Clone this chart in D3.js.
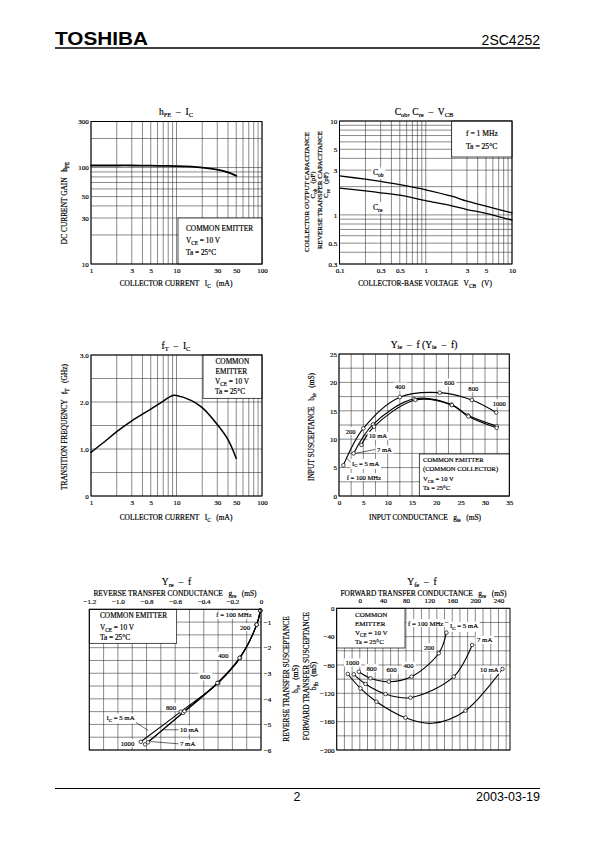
<!DOCTYPE html>
<html><head><meta charset="utf-8">
<script src="https://cdn.jsdelivr.net/npm/d3@7"></script>
<style>body{margin:0;background:#fff}svg{display:block}</style>
</head><body><script>
// ---------------- DATA ----------------
// hFE - IC
const hfeIc  = [1,2,3,5,7,10,15,20,30,40,50];
const hfeVal = [105,105,105,104.5,104,103.5,102,100,95,89,82];
// Cob, Cre - VCB
const capVcb = [0.1,0.2,0.3,0.5,1,2,3,5,10];
const cobVal = [2.6,2.4,2.28,2.1,1.85,1.58,1.4,1.24,1.05];
const creVal = [1.93,1.8,1.72,1.62,1.42,1.25,1.14,1.04,0.88];
// fT - IC
const ftIc  = [1,1.5,2,3,5,7,9,10,15,20,30,40,50];
const ftVal = [0.93,1.18,1.37,1.6,1.85,2.02,2.14,2.14,2.03,1.88,1.52,1.2,0.8];
// Yie (f = 100,200,400,600,800,1000 MHz)
const yieFreq = [100,200,400,600,800,1000];
const yieG5  = [0.9,5.0,12.5,20.7,27.3,32.3];
const yieB5  = [5.4,11.9,17.4,18.2,16.9,14.7];
const yieG7  = [3.0,7.0,15.4,23.1,26.5,32.4];
const yieB7  = [7.5,12.6,17.1,16.1,14.2,12.3];
const yieG10 = [4.6,7.2,15.7,23.2,26.6,32.4];
const yieB10 = [9.0,12.2,16.9,16.0,14.0,12.0];
// Yre (f = 100..1000 MHz)
const yreFreq = [100,200,400,600,800,1000];
const yreG5  = [-0.005,-0.03,-0.147,-0.30,-0.56,-0.84];
const yreB5  = [-0.55,-1.1,-2.4,-3.38,-4.5,-5.68];
const yreG7  = [-0.005,-0.03,-0.147,-0.30,-0.545,-0.81];
const yreB7  = [-0.55,-1.1,-2.4,-3.38,-4.55,-5.78];
const yreG10 = [-0.005,-0.03,-0.15,-0.305,-0.535,-0.79];
const yreB10 = [-0.55,-1.1,-2.4,-3.38,-4.48,-5.7];
// Yfe (f = 1000..100 MHz, null = curve point without marker)
const yfeF5  = [1000,800,600,400,200,100];
const yfeG5  = [-1.7,18.5,50.2,89.4,136.7,150];
const yfeB5  = [-89.5,-98.8,-103.6,-96.5,-63.5,-34.4];
const yfeF7  = [1000,800,600,400,200,100];
const yfeG7  = [-10.4,9.9,44.5,87.7,162.6,194.5];
const yfeB7  = [-93.2,-106.8,-121,-126.2,-96.5,-51.8];
const yfeF10 = [1000,800,600,400,null,200,100];
const yfeG10 = [-20.8,1.2,28.9,79,125,182.9,246.9];
const yfeB10 = [-92.7,-113,-131.8,-154.4,-162.3,-144.5,-85.7];
// tick labels
const icTicks  = [1,3,5,10,30,50,100];
const hfeTicks = [10,30,50,100,300];
const vcbTicks = [0.1,0.3,0.5,1,3,5,10];
const capTicks = [0.3,0.5,1,3,5,10];
const ftTicks  = [0,1,2,3];
const gieTicks = [0,5,10,15,20,25,30,35];
const bieTicks = [0,5,10,15,20,25];
const greTicks = [-1.2,-1.0,-0.8,-0.6,-0.4,-0.2,0];
const breTicks = [-1,-2,-3,-4,-5,-6];
const gfeTicks = [0,40,80,120,160,200,240];
const bfbTicks = [0,-40,-80,-120,-160,-200];

// ---------------- HELPERS ----------------
const W=595,H=842;
const SERIF="'Liberation Serif','DejaVu Serif',serif";
const SANS="'Liberation Sans',Arial,sans-serif";
const TFS=7.4;   // axis titles
const KFS=7;     // tick labels
const svg=d3.select("body").append("svg").attr("width",W).attr("height",H);
svg.append("rect").attr("width",W).attr("height",H).attr("fill","#fff");

function rich(t,str,fs){
  const parts=str.split(/(_\{[^}]*\})/).filter(s=>s.length);
  const drop=fs>9?0.2:0.3, ss=fs>9?0.68:0.72;
  let sh=false;
  for(const p of parts){
    const sub=p.startsWith("_{");
    const ts=t.append("tspan").text(sub?p.slice(2,-1):p);
    if(sub){ts.attr("font-size",fs*ss).attr("dy",fs*drop);sh=true;}
    else if(sh){ts.attr("dy",-fs*drop);sh=false;}
  }
  return t;
}
function text(g,x,y,str,o={}){
  const fs=o.fs||7;
  const font=o.font||SERIF;
  const t=g.append("text").attr("x",x).attr("y",y)
    .attr("font-family",font).attr("font-size",fs)
    .attr("text-anchor",o.anchor||"start").attr("fill","#000")
    .style("white-space","pre");
  if(font===SERIF) t.attr("stroke","#000").attr("stroke-width",0.18);
  if(o.weight) t.attr("font-weight",o.weight);
  if(o.rotate) t.attr("transform",`rotate(-90,${x},${y})`);
  rich(t,str,fs);
  if(o.len) t.attr("textLength",o.len).attr("lengthAdjust","spacingAndGlyphs");
  if(o.bg){
    const b=t.node().getBBox();
    g.insert("rect",()=>t.node()).attr("x",b.x-1.5).attr("y",b.y-0.5)
      .attr("width",b.width+3).attr("height",b.height+1).attr("fill","#fff");
  }
  return t;
}
function logGrid(lo,hi){
  const out=[];
  for(let e=Math.floor(Math.log10(lo)-1e-9);e<=Math.ceil(Math.log10(hi));e++){
    const d=Math.pow(10,e);
    for(let k=1;k<=9;k++){const v=+(k*d).toPrecision(6); if(v>=lo*0.999&&v<=hi*1.001) out.push(v);}
  }
  return out;
}
function frame(x,y,gx,gy){
  const g=svg.append("g");
  const [xa,xb]=x.range(), ya=Math.min(...y.range()), yb=Math.max(...y.range());
  g.append("g").selectAll("line").data(gx).join("line")
    .attr("x1",d=>x(d)).attr("x2",d=>x(d)).attr("y1",ya).attr("y2",yb)
    .attr("stroke","#2a2a2a").attr("stroke-width",0.55);
  g.append("g").selectAll("line").data(gy).join("line")
    .attr("x1",xa).attr("x2",xb).attr("y1",d=>y(d)).attr("y2",d=>y(d))
    .attr("stroke","#2a2a2a").attr("stroke-width",0.55);
  return {g,xa,xb,ya,yb};
}
function border(f){
  f.g.append("rect").attr("x",f.xa).attr("y",f.ya).attr("width",f.xb-f.xa).attr("height",f.yb-f.ya)
    .attr("fill","none").attr("stroke","#000").attr("stroke-width",1);
}
function box(f,x1,y1,x2,y2){
  f.g.append("rect").attr("x",x1).attr("y",y1).attr("width",x2-x1).attr("height",y2-y1)
    .attr("fill","#fff").attr("stroke","#000").attr("stroke-width",0.7);
}
function styleAxis(a){
  a.select(".domain").remove();
  a.attr("font-size",null).attr("font-family",null);
  a.selectAll("text").attr("font-family",SERIF).attr("font-size",KFS).attr("fill","#000")
    .attr("stroke","#000").attr("stroke-width",0.18);
}
function axis(f,kind,scale,ticks,fmt,pos,pad){
  const gen={bottom:d3.axisBottom,left:d3.axisLeft,top:d3.axisTop,right:d3.axisRight}[kind](scale)
    .tickValues(ticks).tickFormat(fmt).tickSize(0).tickPadding(pad);
  const tr=(kind==="bottom"||kind==="top")?`translate(0,${pos})`:`translate(${pos},0)`;
  f.g.append("g").attr("transform",tr).call(gen).call(styleAxis);
}
function curve(f,x,y,xs,ys,w,type){
  const pts=xs.map((v,i)=>[v,ys[i]]);
  const line=d3.line().x(d=>x(d[0])).y(d=>y(d[1])).curve(type||d3.curveCatmullRom.alpha(0.5));
  f.g.append("path").attr("d",line(pts)).attr("fill","none").attr("stroke","#000")
    .attr("stroke-width",w).attr("stroke-linejoin","round").attr("stroke-linecap","round");
}
function markers(f,x,y,xs,ys,fs){
  const pts=xs.map((v,i)=>[v,ys[i],fs[i]]).filter(d=>d[2]!=null);
  f.g.append("g").selectAll("circle").data(pts).join("circle")
    .attr("cx",d=>x(d[0])).attr("cy",d=>y(d[1])).attr("r",1.8)
    .attr("fill","#fff").attr("stroke","#000").attr("stroke-width",0.7);
}
function leader(f,x,y,a,b){
  f.g.append("line").attr("x1",x(a[0])).attr("y1",y(a[1])).attr("x2",x(b[0])).attr("y2",y(b[1]))
    .attr("stroke","#000").attr("stroke-width",0.6);
}
const fmtG=d=>String(d);

// ---------------- HEADER / FOOTER ----------------
text(svg,55,45,"TOSHIBA",{font:SANS,fs:18.5,weight:900,len:93});
text(svg,540,45,"2SC4252",{font:SANS,fs:14,anchor:"end"});
svg.append("line").attr("x1",55).attr("x2",540).attr("y1",48).attr("y2",48).attr("stroke","#000").attr("stroke-width",1.4);
svg.append("line").attr("x1",55).attr("x2",540).attr("y1",788.5).attr("y2",788.5).attr("stroke","#000").attr("stroke-width",1.2);
text(svg,297,801,"2",{font:SANS,fs:12.5,anchor:"middle"});
text(svg,540,801,"2003-03-19",{font:SANS,fs:12.5,anchor:"end"});

// ---------------- CHART 1: hFE - IC ----------------
{
  const x=d3.scaleLog().domain([1,100]).range([91,262]);
  const y=d3.scaleLog().domain([10,300]).range([264,121.5]);
  const f=frame(x,y,logGrid(1,100),logGrid(10,300));
  box(f,178,218,262,264);
  curve(f,x,y,hfeIc,hfeVal,1.8);
  text(f.g,186,230.5,"COMMON EMITTER",{fs:7.3});
  text(f.g,186,242.5,"V_{CE} = 10 V",{fs:7.3});
  text(f.g,186,255,"Ta = 25°C",{fs:7.3});
  border(f);
  axis(f,"bottom",x,icTicks,fmtG,264,3.6);
  axis(f,"left",y,hfeTicks,fmtG,91,2.3);
  text(svg,176,115,"h_{FE}  –  I_{C}",{fs:9.5,anchor:"middle"});
  text(svg,176,285.5,"COLLECTOR CURRENT   I_{C}   (mA)",{fs:TFS,anchor:"middle"});
  text(svg,67,203,"DC CURRENT GAIN   h_{FE}",{fs:TFS,anchor:"middle",rotate:true});
}

// ---------------- CHART 2: Cob, Cre - VCB ----------------
{
  const x=d3.scaleLog().domain([0.1,10]).range([339.5,512]);
  const y=d3.scaleLog().domain([0.3,10]).range([264,121]);
  const f=frame(x,y,logGrid(0.1,10),logGrid(0.3,10));
  box(f,451.7,121,512,157);
  curve(f,x,y,capVcb,cobVal,1.3);
  curve(f,x,y,capVcb,creVal,1.3);
  text(f.g,466,135.5,"f = 1 MHz",{fs:7.6});
  text(f.g,466,148.5,"Ta = 25°C",{fs:7.6});
  text(f.g,373,175,"C_{ob}",{fs:7.6,bg:true});
  text(f.g,373,209.5,"C_{re}",{fs:7.6,bg:true});
  border(f);
  axis(f,"bottom",x,vcbTicks,fmtG,264,3.6);
  axis(f,"left",y,capTicks,fmtG,339.5,2.3);
  text(svg,424,115,"C_{ob}, C_{re}  –  V_{CB}",{fs:9.5,anchor:"middle"});
  text(svg,425,285.5,"COLLECTOR-BASE VOLTAGE   V_{CB}   (V)",{fs:TFS,anchor:"middle"});
  text(svg,308.5,192,"COLLECTOR OUTPUT CAPACITANCE",{fs:7,anchor:"middle",rotate:true});
  text(svg,315,185,"C_{ob}   (pF)",{fs:7,anchor:"middle",rotate:true});
  text(svg,321.5,190,"REVERSE TRANSFER CAPACITANCE",{fs:7,anchor:"middle",rotate:true});
  text(svg,328,185,"C_{re}   (pF)",{fs:7,anchor:"middle",rotate:true});
}

// ---------------- CHART 3: fT - IC ----------------
{
  const x=d3.scaleLog().domain([1,100]).range([91,262]);
  const y=d3.scaleLinear().domain([0,3]).range([496,355]);
  const f=frame(x,y,logGrid(1,100),d3.range(0,3.01,0.5));
  box(f,203,355,262,398.3);
  curve(f,x,y,ftIc,ftVal,1.5);
  text(f.g,215.5,363.8,"COMMON",{fs:7.3});
  text(f.g,215.5,373.6,"EMITTER",{fs:7.3});
  text(f.g,215,384,"V_{CE} = 10 V",{fs:7.3});
  text(f.g,215,394,"Ta = 25°C",{fs:7.3});
  border(f);
  axis(f,"bottom",x,icTicks,fmtG,496,3.6);
  axis(f,"left",y,ftTicks,d=>d===0?"0":d.toFixed(1),91,2.3);
  text(svg,176,349,"f_{T}  –  I_{C}",{fs:9.5,anchor:"middle"});
  text(svg,176,520,"COLLECTOR CURRENT   I_{C}   (mA)",{fs:TFS,anchor:"middle"});
  text(svg,66.5,427,"TRANSITION FREQUENCY   f_{T}   (GHz)",{fs:TFS,anchor:"middle",rotate:true});
}

// ---------------- CHART 4: Yie ----------------
{
  const x=d3.scaleLinear().domain([0,35]).range([339,509.3]);
  const y=d3.scaleLinear().domain([0,25]).range([496,354]);
  const f=frame(x,y,d3.range(0,35.01,2.5),d3.range(0,25.01,2.5));
  box(f,419.3,454,509.3,496);
  curve(f,x,y,yieG5,yieB5,1.1);
  curve(f,x,y,yieG7,yieB7,1.1);
  curve(f,x,y,yieG10,yieB10,1.1);
  markers(f,x,y,yieG5,yieB5,yieFreq);
  markers(f,x,y,yieG7,yieB7,yieFreq);
  markers(f,x,y,yieG10,yieB10,yieFreq);
  leader(f,x,y,[5.0,10.6],[5.9,10.6]);
  leader(f,x,y,[3.3,7.5],[7.5,8.2]);
  leader(f,x,y,[1.6,6.6],[2.6,5.8]);
  text(f.g,350.7,433.5,"200",{fs:6.6,anchor:"middle",bg:true});
  text(f.g,400,389,"400",{fs:6.6,anchor:"middle",bg:true});
  text(f.g,449.3,385,"600",{fs:6.6,anchor:"middle",bg:true});
  text(f.g,473.3,390.7,"800",{fs:6.6,anchor:"middle",bg:true});
  text(f.g,499.3,405.7,"1000",{fs:6.6,anchor:"middle",bg:true});
  text(f.g,369,438.3,"10 mA",{fs:6.6,bg:true});
  text(f.g,377,452,"7 mA",{fs:6.6,bg:true});
  text(f.g,352,465.5,"I_{C} = 5 mA",{fs:6.6,bg:true});
  text(f.g,346.7,479.6,"f = 100 MHz",{fs:6.6,bg:true});
  text(f.g,423,462.3,"COMMON EMITTER",{fs:6.6});
  text(f.g,423,471.3,"(COMMON COLLECTOR)",{fs:6.6});
  text(f.g,423,480.6,"V_{CE} = 10 V",{fs:6.6});
  text(f.g,423,489.5,"Ta = 25°C",{fs:6.6});
  border(f);
  axis(f,"bottom",x,gieTicks,fmtG,496,3.6);
  axis(f,"left",y,bieTicks,fmtG,339,2.1);
  text(svg,424,347.5,"Y_{ie}  –  f (Y_{ie}  –  f)",{fs:9.5,anchor:"middle"});
  text(svg,425,519.5,"INPUT CONDUCTANCE   g_{ie}   (mS)",{fs:TFS,anchor:"middle"});
  text(svg,314,427,"INPUT SUSCEPTANCE   b_{ie}   (mS)",{fs:TFS,anchor:"middle",rotate:true});
}

// ---------------- CHART 5: Yre ----------------
{
  const x=d3.scaleLinear().domain([-1.2,0]).range([89.3,261]);
  const y=d3.scaleLinear().domain([-0.5,-6]).range([609.3,750]);
  const f=frame(x,y,d3.range(-1.2,0.001,0.1),d3.range(-0.5,-6.01,-0.5));
  box(f,89.3,609.3,176.7,643.3);
  curve(f,x,y,yreG5,yreB5,1.1);
  curve(f,x,y,yreG7,yreB7,1.1);
  curve(f,x,y,yreG10,yreB10,1.1);
  markers(f,x,y,yreG5,yreB5,yreFreq);
  markers(f,x,y,yreG7,yreB7,yreFreq);
  markers(f,x,y,yreG10,yreB10,yreFreq);
  leader(f,x,y,[-0.916,-4.76],[-0.788,-5.24]);
  leader(f,x,y,[-0.68,-5.21],[-0.573,-5.21]);
  leader(f,x,y,[-0.771,-5.67],[-0.573,-5.76]);
  text(f.g,100,618.3,"COMMON EMITTER",{fs:7.3});
  text(f.g,100,630,"V_{CE} = 10 V",{fs:7.3});
  text(f.g,100,640,"Ta = 25°C",{fs:7.3});
  text(f.g,234,617.3,"f = 100 MHz",{fs:6.8,anchor:"middle",bg:true});
  text(f.g,245,629.6,"200",{fs:6.8,anchor:"middle",bg:true});
  text(f.g,223.3,658.3,"400",{fs:6.8,anchor:"middle",bg:true});
  text(f.g,205,679,"600",{fs:6.8,anchor:"middle",bg:true});
  text(f.g,171,709.6,"800",{fs:6.8,anchor:"middle",bg:true});
  text(f.g,127.5,745.6,"1000",{fs:6.8,anchor:"middle",bg:true});
  text(f.g,106.5,720,"I_{C} = 5 mA",{fs:6.8,bg:true});
  text(f.g,180,732.3,"10 mA",{fs:6.8,bg:true});
  text(f.g,180,746.3,"7 mA",{fs:6.8,bg:true});
  border(f);
  axis(f,"top",x,greTicks,d=>d===0?"0":d3.format(".1f")(d),609.3,5.5);
  axis(f,"right",y,breTicks,d3.format("d"),261,2.8);
  text(svg,176.5,585,"Y_{re}  –  f",{fs:9.5,anchor:"middle"});
  text(svg,175,595.5,"REVERSE TRANSFER CONDUCTANCE   g_{re}   (mS)",{fs:TFS,anchor:"middle"});
  text(svg,289,679,"REVERSE TRANSFER SUSCEPTANCE",{fs:TFS,anchor:"middle",rotate:true});
  text(svg,298,679,"b_{re}   (mS)",{fs:TFS,anchor:"middle",rotate:true});
}

// ---------------- CHART 6: Yfe ----------------
{
  const x=d3.scaleLinear().domain([-40,260]).range([336.7,510]);
  const y=d3.scaleLinear().domain([0,-200]).range([608.3,750]);
  const f=frame(x,y,d3.range(-40,260.1,40/3),d3.range(0,-200.1,-20));
  box(f,336.7,608.3,405,648);
  curve(f,x,y,yfeG5,yfeB5,1.1);
  curve(f,x,y,yfeG7,yfeB7,1.1);
  curve(f,x,y,yfeG10,yfeB10,1.1);
  markers(f,x,y,yfeG5,yfeB5,yfeF5);
  markers(f,x,y,yfeG7,yfeB7,yfeF7);
  markers(f,x,y,yfeG10,yfeB10,yfeF10);
  text(f.g,355,617.3,"COMMON",{fs:7});
  text(f.g,355,625.8,"EMITTER",{fs:7});
  text(f.g,355,635,"V_{CE} = 10 V",{fs:7});
  text(f.g,355,644,"Ta = 25°C",{fs:7});
  text(f.g,408,625.6,"f = 100 MHz",{fs:6.8,bg:true});
  text(f.g,450,628.3,"I_{C} = 5 mA",{fs:6.8,bg:true});
  text(f.g,477,642.3,"7 mA",{fs:6.8,bg:true});
  text(f.g,480,672.3,"10 mA",{fs:6.8,bg:true});
  text(f.g,429,649.6,"200",{fs:6.8,anchor:"middle",bg:true});
  text(f.g,352.3,665,"1000",{fs:6.8,anchor:"middle",bg:true});
  text(f.g,371.5,670.6,"800",{fs:6.8,anchor:"middle",bg:true});
  text(f.g,391.5,672.3,"600",{fs:6.8,anchor:"middle",bg:true});
  text(f.g,408.5,668.3,"400",{fs:6.8,anchor:"middle",bg:true});
  border(f);
  axis(f,"top",x,gfeTicks,fmtG,608.3,5);
  axis(f,"left",y,bfbTicks,d3.format("d"),336.7,2.3);
  text(svg,422,585,"Y_{fe}  –  f",{fs:9.5,anchor:"middle"});
  text(svg,423.5,595.5,"FORWARD TRANSFER CONDUCTANCE   g_{re}   (mS)",{fs:TFS,anchor:"middle"});
  text(svg,309,676,"FORWARD TRANSFER SUSCEPTANCE",{fs:TFS,anchor:"middle",rotate:true});
  text(svg,316,676,"b_{fb}   (mS)",{fs:TFS,anchor:"middle",rotate:true});
}
</script></body></html>
